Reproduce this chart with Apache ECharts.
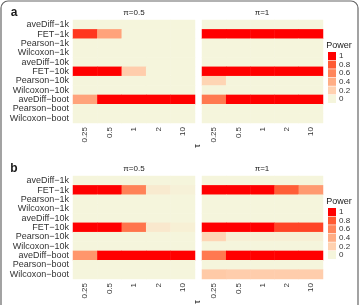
<!DOCTYPE html>
<html>
<head>
<meta charset="utf-8">
<script src="https://cdn.jsdelivr.net/npm/echarts@6/dist/echarts.min.js"></script>
<style>
html, body { margin: 0; padding: 0; background: #fff; }
#main { width: 360px; height: 305px; }
</style>
</head>
<body>
<div id="main"></div>
<script>
// rows (top to bottom) and columns of every facet
const methods = ['aveDiff−1k', 'FET−1k', 'Pearson−1k', 'Wilcoxon−1k', 'aveDiff−10k', 'FET−10k',
    'Pearson−10k', 'Wilcoxon−10k', 'aveDiff−boot', 'Pearson−boot', 'Wilcoxon−boot'];
const taus = ['0.25', '0.5', '1', '2', '10'];
const legendTicks = [1, 0.8, 0.6, 0.4, 0.2, 0];

// power per method (row) and tau (column)
const powerA05 = [
    [0, 0, 0, 0, 0],
    [0.88, 0.45, 0, 0, 0],
    [0, 0, 0, 0, 0],
    [0, 0, 0, 0, 0],
    [0, 0, 0, 0, 0],
    [1, 1, 0.22, 0, 0],
    [0, 0, 0, 0, 0],
    [0, 0, 0, 0, 0],
    [0.45, 1, 1, 1, 1],
    [0, 0, 0, 0, 0],
    [0, 0, 0, 0, 0]
];
const powerA1 = [
    [0, 0, 0, 0, 0],
    [1, 1, 1, 1, 1],
    [0, 0, 0, 0, 0],
    [0, 0, 0, 0, 0],
    [0, 0, 0, 0, 0],
    [1, 1, 1, 1, 1],
    [0.18, 0, 0, 0, 0],
    [0, 0, 0, 0, 0],
    [0.66, 1, 1, 1, 1],
    [0, 0, 0, 0, 0],
    [0, 0, 0, 0, 0]
];
const powerB05 = [
    [0, 0, 0, 0, 0],
    [1, 1, 0.62, 0.06, 0.02],
    [0, 0, 0, 0, 0],
    [0, 0, 0, 0, 0],
    [0, 0, 0, 0, 0],
    [1, 1, 0.68, 0.07, 0.03],
    [0, 0, 0, 0, 0],
    [0, 0, 0, 0, 0],
    [0.52, 1, 1, 1, 1],
    [0, 0, 0, 0, 0],
    [0, 0, 0, 0, 0]
];
const powerB1 = [
    [0, 0, 0, 0, 0],
    [1, 1, 1, 0.78, 0.5],
    [0, 0, 0, 0, 0],
    [0, 0, 0, 0, 0],
    [0, 0, 0, 0, 0],
    [1, 1, 1, 0.85, 0.85],
    [0.18, 0.03, 0.03, 0.03, 0.03],
    [0, 0, 0, 0, 0],
    [0.66, 1, 1, 1, 1],
    [0, 0, 0, 0, 0],
    [0.24, 0.22, 0.22, 0.22, 0.22]
];

// beige -> red, sampled at 0, 0.2, ... 1
const scaleColors = ['#F5F5DC', '#FFD1B0', '#FFAD85', '#FF865C', '#FF5A33', '#FF0000'];

const facets = [powerA05, powerA1, powerB05, powerB1];
const grids = [
    { left: 73, top: 20, width: 122, height: 103 },
    { left: 202, top: 20, width: 121, height: 103 },
    { left: 73, top: 176, width: 122, height: 103 },
    { left: 202, top: 176, width: 121, height: 103 }
];

function toCells(matrix) {
    let cells = [];
    matrix.forEach((row, y) => row.forEach((v, x) => cells.push([x, y, v])));
    return cells;
}

const labelColor = '#333';
const font = 'Liberation Sans, Arial, sans-serif';

let legendPieces = legendTicks.map((v) => ({
    value: v, label: String(v), color: scaleColors[Math.round(v * 5)]
}));

function legend(top) {
    return {
        type: 'piecewise', seriesIndex: [], left: 328, top: top, align: 'left', padding: 0,
        orient: 'vertical', itemSymbol: 'rect', itemWidth: 8, itemHeight: 8, itemGap: 0.6,
        textGap: 3, selectedMode: false, hoverLink: false, pieces: legendPieces,
        textStyle: { fontSize: 8, color: labelColor, fontFamily: font }
    };
}

function label(text, x, y, size, extra) {
    return Object.assign({
        type: 'text', x: x, y: y, silent: true,
        style: { text: text, fontSize: size, fontFamily: font, fill: '#1a1a1a', textAlign: 'center', textVerticalAlign: 'middle' }
    }, extra || {});
}

let options = {
    animation: false,
    grid: grids,
    xAxis: grids.map((g, i) => ({
        type: 'category', gridIndex: i, data: taus,
        axisLine: { show: false }, axisTick: { show: false }, splitLine: { show: false },
        axisLabel: { interval: 0, rotate: 90, fontSize: 8, margin: 4, color: labelColor, fontFamily: font }
    })),
    yAxis: grids.map((g, i) => ({
        type: 'category', gridIndex: i, data: methods, inverse: true,
        axisLine: { show: false }, axisTick: { show: false }, splitLine: { show: false },
        axisLabel: { show: i % 2 === 0, interval: 0, fontSize: 9, margin: 4, color: labelColor, fontFamily: font }
    })),
    visualMap: [
        { type: 'continuous', min: 0, max: 1, seriesIndex: [0, 1, 2, 3], show: false, inRange: { color: scaleColors } },
        legend(52),
        legend(208)
    ],
    series: facets.map((m, i) => ({
        type: 'heatmap', xAxisIndex: i, yAxisIndex: i, data: toCells(m),
        itemStyle: { borderWidth: 0 }, emphasis: { disabled: true }, progressive: 0
    })),
    graphic: [
        { type: 'rect', silent: true, shape: { x: 1, y: 1, width: 357, height: 312, r: 7 },
          style: { fill: 'none', stroke: '#666', lineWidth: 1.2 } },
        label('a', 14, 13, 12, {}),
        label('b', 14, 169, 12, {}),
        label('π=0.5', 134, 13, 8),
        label('π=1', 262, 13, 8),
        label('π=0.5', 134, 169, 8),
        label('π=1', 262, 169, 8),
        label('Power', 339, 46, 9),
        label('Power', 339, 202, 9),
        label('τ', 198, 146, 9, { rotation: Math.PI / 2 }),
        label('τ', 198, 302, 9, { rotation: Math.PI / 2 })
    ]
};
options.graphic[1].style.fontWeight = 'bold';
options.graphic[2].style.fontWeight = 'bold';

let myChart = echarts.init(document.getElementById('main'), null, { renderer: 'canvas' });
myChart.setOption(options);
</script>
</body>
</html>
